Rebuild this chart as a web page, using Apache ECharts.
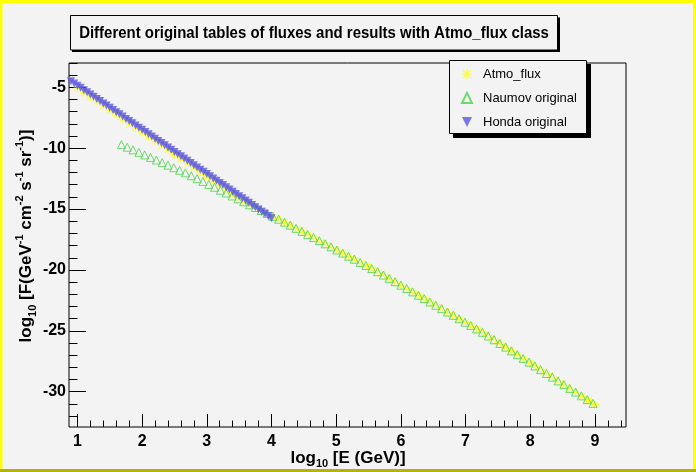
<!DOCTYPE html>
<html><head><meta charset="utf-8">
<script src="https://cdn.jsdelivr.net/npm/echarts@6/dist/echarts.min.js"></script>
<style>html,body{margin:0;padding:0;background:#f3f3f3}#c{width:696px;height:472px}</style>
</head><body><div id="c"></div>
<script>
const seriesNames = ['Atmo_flux', 'Naumov original', 'Honda original'];
const xMajorTicks = [1, 2, 3, 4, 5, 6, 7, 8, 9];
const yMajorTicks = [-30, -25, -20, -15, -10, -5];

const atmoFlux = [[1.0,-5.06],[1.1,-5.43],[1.2,-5.79],[1.3,-6.15],[1.4,-6.52],[1.5,-6.88],[1.6,-7.24],[1.7,-7.60],[1.8,-7.97],[1.9,-8.33],[2.0,-8.69],[2.1,-9.06],[2.2,-9.42],[2.3,-9.78],[2.4,-10.15],[2.5,-10.51],[2.6,-10.87],[2.7,-11.23],[2.8,-11.60],[2.9,-11.96],[3.0,-12.32],[3.1,-12.69],[3.2,-13.05],[3.3,-13.41],[3.4,-13.78],[3.5,-14.12],[3.6,-14.44],[3.7,-14.74],[3.8,-15.01],[3.9,-15.27],[4.0,-15.54],[4.1,-15.80],[4.2,-16.07],[4.3,-16.35],[4.4,-16.63],[4.5,-16.92],[4.6,-17.19],[4.7,-17.48],[4.8,-17.76],[4.9,-18.04],[5.0,-18.33],[5.1,-18.61],[5.2,-18.89],[5.3,-19.18],[5.4,-19.46],[5.5,-19.74],[5.6,-20.03],[5.7,-20.33],[5.8,-20.64],[5.9,-20.94],[6.0,-21.25],[6.1,-21.55],[6.2,-21.86],[6.3,-22.17],[6.4,-22.47],[6.5,-22.78],[6.6,-23.09],[6.7,-23.39],[6.8,-23.70],[6.9,-24.01],[7.0,-24.31],[7.1,-24.62],[7.2,-24.93],[7.3,-25.25],[7.4,-25.59],[7.5,-25.93],[7.6,-26.27],[7.7,-26.62],[7.8,-26.96],[7.9,-27.30],[8.0,-27.64],[8.1,-27.98],[8.2,-28.33],[8.3,-28.67],[8.4,-29.01],[8.5,-29.35],[8.6,-29.69],[8.7,-30.03],[8.8,-30.38],[8.9,-30.72],[9.0,-31.06]];

const naumov = [[1.68,-9.71],[1.77,-9.92],[1.86,-10.13],[1.95,-10.34],[2.04,-10.55],[2.13,-10.76],[2.22,-10.97],[2.31,-11.18],[2.40,-11.39],[2.49,-11.60],[2.58,-11.81],[2.67,-12.02],[2.76,-12.26],[2.85,-12.50],[2.94,-12.73],[3.03,-12.97],[3.12,-13.21],[3.21,-13.45],[3.30,-13.68],[3.39,-13.92],[3.48,-14.16],[3.57,-14.40],[3.66,-14.64],[3.75,-14.87],[3.84,-15.11],[3.93,-15.35],[4.02,-15.59],[4.11,-15.83],[4.20,-16.07],[4.29,-16.32],[4.38,-16.58],[4.47,-16.83],[4.56,-17.08],[4.65,-17.34],[4.74,-17.59],[4.83,-17.85],[4.92,-18.10],[5.01,-18.36],[5.10,-18.61],[5.19,-18.87],[5.28,-19.12],[5.37,-19.38],[5.46,-19.63],[5.55,-19.88],[5.64,-20.14],[5.73,-20.42],[5.82,-20.69],[5.91,-20.97],[6.00,-21.25],[6.09,-21.52],[6.18,-21.80],[6.27,-22.08],[6.36,-22.35],[6.45,-22.63],[6.54,-22.90],[6.63,-23.18],[6.72,-23.46],[6.81,-23.73],[6.90,-24.01],[6.99,-24.29],[7.08,-24.56],[7.17,-24.84],[7.26,-25.12],[7.35,-25.42],[7.44,-25.73],[7.53,-26.04],[7.62,-26.34],[7.71,-26.65],[7.80,-26.96],[7.89,-27.27],[7.98,-27.57],[8.07,-27.88],[8.16,-28.19],[8.25,-28.50],[8.34,-28.80],[8.43,-29.11],[8.52,-29.42],[8.61,-29.73],[8.70,-30.03],[8.79,-30.34],[8.88,-30.65],[8.97,-30.96]];

const honda = [[0.90,-4.50],[0.95,-4.68],[1.00,-4.86],[1.05,-5.04],[1.10,-5.23],[1.15,-5.41],[1.20,-5.59],[1.25,-5.77],[1.30,-5.95],[1.35,-6.13],[1.40,-6.32],[1.45,-6.50],[1.50,-6.68],[1.55,-6.86],[1.60,-7.04],[1.65,-7.22],[1.70,-7.40],[1.75,-7.59],[1.80,-7.77],[1.85,-7.95],[1.90,-8.13],[1.95,-8.31],[2.00,-8.49],[2.05,-8.67],[2.10,-8.86],[2.15,-9.04],[2.20,-9.22],[2.25,-9.40],[2.30,-9.58],[2.35,-9.76],[2.40,-9.95],[2.45,-10.13],[2.50,-10.31],[2.55,-10.49],[2.60,-10.67],[2.65,-10.85],[2.70,-11.03],[2.75,-11.22],[2.80,-11.40],[2.85,-11.58],[2.90,-11.76],[2.95,-11.94],[3.00,-12.12],[3.05,-12.30],[3.10,-12.49],[3.15,-12.67],[3.20,-12.85],[3.25,-13.03],[3.30,-13.21],[3.35,-13.39],[3.40,-13.58],[3.45,-13.76],[3.50,-13.94],[3.55,-14.12],[3.60,-14.30],[3.65,-14.48],[3.70,-14.66],[3.75,-14.85],[3.80,-15.03],[3.85,-15.21],[3.90,-15.39],[3.95,-15.57],[4.00,-15.75]];

const xMinorTicks = [];
for (let i = 0; i <= 42; i++) xMinorTicks.push(+(1 + i * 0.2).toFixed(1));
const yMinorTicks = [];
for (let v = -32; v <= -3; v++) yMinorTicks.push(v);

const FONT = '"Liberation Sans", Arial, Helvetica, sans-serif';
const BG = '#f3f3f3';
const starPath = 'path://M4.4 0L5.6 0L5.6 10L4.4 10Z M0 4.4L10 4.4L10 5.6L0 5.6Z M1.5 0.7L9.3 8.5L8.5 9.3L0.7 1.5Z M8.5 0.7L9.3 1.5L1.5 9.3L0.7 8.5Z';
const downTri = 'path://M0 0L10 0L5 10Z';
const upTri = 'path://M5 0L10 10L0 10Z';

const chart = echarts.init(document.getElementById('c'), null, {renderer: 'canvas'});

const xCommon = {type: 'value', min: 0.87, max: 9.48, position: 'bottom', axisLine: {show: false}, splitLine: {show: false}};
const yCommon = {type: 'value', min: -32.9, max: -3, position: 'left', axisLine: {show: false}, splitLine: {show: false}};

const option = {
  backgroundColor: BG,
  animation: false,
  grid: {left: 69, top: 63, width: 557, height: 364, show: true, borderColor: '#000', borderWidth: 1, backgroundColor: 'transparent'},
  xAxis: [
    Object.assign({}, xCommon, {
      axisTick: {inside: true, length: 13, customValues: xMajorTicks, lineStyle: {color: '#000', width: 1}},
      axisLabel: {customValues: xMajorTicks, fontFamily: FONT, fontWeight: 'bold', fontSize: 16, color: '#000', margin: 7}
    }),
    Object.assign({}, xCommon, {
      axisTick: {inside: true, length: 6.5, customValues: xMinorTicks, lineStyle: {color: '#000', width: 1}},
      axisLabel: {show: false}
    })
  ],
  yAxis: [
    Object.assign({}, yCommon, {
      axisTick: {inside: true, length: 17, customValues: yMajorTicks, lineStyle: {color: '#000', width: 1}},
      axisLabel: {customValues: yMajorTicks, fontFamily: FONT, fontWeight: 'bold', fontSize: 16, color: '#000', margin: 3}
    }),
    Object.assign({}, yCommon, {
      axisTick: {inside: true, length: 8.5, customValues: yMinorTicks, lineStyle: {color: '#000', width: 1}},
      axisLabel: {show: false}
    })
  ],
  legend: {
    orient: 'vertical', left: 456, top: 62, itemWidth: 22, itemHeight: 10, itemGap: 10,
    selectedMode: false, data: seriesNames,
    textStyle: {fontFamily: FONT, fontSize: 13, color: '#000', lineHeight: 14}
  },
  series: [
    {name: seriesNames[0], type: 'scatter', data: atmoFlux, symbol: starPath, symbolSize: 8, symbolKeepAspect: true,
     itemStyle: {color: '#ffff00'}, silent: true},
    {name: seriesNames[1], type: 'scatter', data: naumov, symbol: upTri, symbolSize: 8, symbolKeepAspect: true,
     itemStyle: {color: 'rgba(0,0,0,0)', borderColor: '#4fd24f', borderWidth: 1}, silent: true},
    {name: seriesNames[2], type: 'scatter', data: honda, symbol: downTri, symbolSize: 8, symbolKeepAspect: true,
     itemStyle: {color: '#5b57dd'}, silent: true}
  ],
  graphic: [
    {type: 'rect', shape: {x: 0, y: 0, width: 696, height: 3}, style: {fill: '#ffff00'}, silent: true},
    {type: 'rect', shape: {x: 0, y: 0, width: 2.5, height: 472}, style: {fill: '#ffff00'}, silent: true},
    {type: 'rect', shape: {x: 693, y: 0, width: 3, height: 472}, style: {fill: '#ffff00'}, silent: true},
    {type: 'rect', shape: {x: 0, y: 469, width: 696, height: 3}, style: {fill: '#b3b300'}, silent: true},
    {type: 'rect', shape: {x: 72, y: 17.5, width: 488, height: 34.5}, style: {fill: '#000'}, silent: true},
    {type: 'rect', shape: {x: 70.5, y: 15.5, width: 487, height: 34.5}, style: {fill: BG, stroke: '#000', lineWidth: 1}, silent: true},
    {type: 'text', x: 314, y: 33, scaleX: 0.88, silent: true,
     style: {text: 'Different original tables of fluxes and results with Atmo_flux class', fontFamily: FONT, fontWeight: 'bold', fontSize: 17, fill: '#000', align: 'center', verticalAlign: 'middle'}},
    {type: 'rect', shape: {x: 453, y: 64, width: 138, height: 74}, style: {fill: '#000'}, silent: true},
    {type: 'rect', shape: {x: 449.5, y: 60.5, width: 137, height: 73}, style: {fill: BG, stroke: '#000', lineWidth: 1}, silent: true},
    {type: 'text', x: 348, y: 458, silent: true,
     style: {text: '{b|log}{s|10}{b| [E (GeV)]}', align: 'center', verticalAlign: 'middle',
       rich: {b: {fontFamily: FONT, fontWeight: 'bold', fontSize: 17, lineHeight: 22, fill: '#000', verticalAlign: 'middle'},
              s: {fontFamily: FONT, fontWeight: 'bold', fontSize: 11, lineHeight: 11, fill: '#000', verticalAlign: 'bottom'}}}},
    {type: 'text', x: 26, y: 236, rotation: Math.PI / 2, silent: true,
     style: {text: '{b|log}{s|10}{b| [F(GeV}{p|-1}{b| cm}{p|-2}{b| s}{p|-1}{b| sr}{p|-1}{b|)]}', align: 'center', verticalAlign: 'middle',
       rich: {b: {fontFamily: FONT, fontWeight: 'bold', fontSize: 17, lineHeight: 24, fill: '#000', verticalAlign: 'middle'},
              s: {fontFamily: FONT, fontWeight: 'bold', fontSize: 11, lineHeight: 11, fill: '#000', verticalAlign: 'bottom'},
              p: {fontFamily: FONT, fontWeight: 'bold', fontSize: 11, lineHeight: 12, fill: '#000', verticalAlign: 'top'}}}}
  ]
};
chart.setOption(option);
</script></body></html>
